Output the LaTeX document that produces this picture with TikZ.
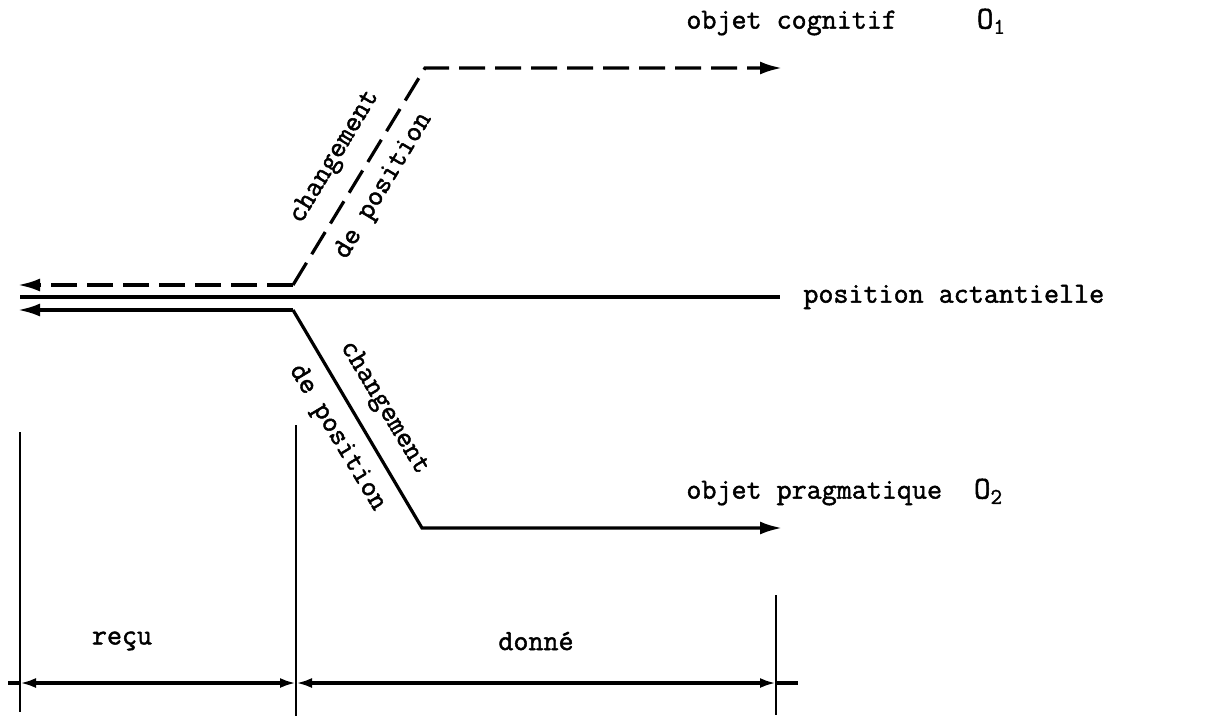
\documentclass[tikz,border=0pt]{standalone}
\usepackage{fontspec}
\newfontfamily\twfont[FakeBold=1.6]{Latin Modern Mono}
\usetikzlibrary{arrows.meta}
\begin{document}
\begin{tikzpicture}[x=0.5pt,y=-0.5pt,
  lbl/.style={font=\twfont\fontsize{14.6pt}{16pt}\selectfont, inner sep=0pt},
  path/.style={line width=1.6pt},
  dsh/.style={path, dash pattern=on 13pt off 5pt},
  tip/.style={-{Latex[length=11pt,width=6.5pt]}},
  dimtip/.style={{Latex[length=8pt,width=5pt]}-{Latex[length=8pt,width=5pt]}},
  thin line/.style={line width=1pt}]
\useasboundingbox (0,0) rectangle (1218,724);
% coordinates
\coordinate (uL) at (18,285);
\coordinate (uK) at (293,285);
\coordinate (uT) at (425,68);
\coordinate (uR) at (782,68);
\coordinate (mL) at (20,297);
\coordinate (mR) at (780,297);
\coordinate (lL) at (18,310);
\coordinate (lK) at (293,310);
\coordinate (lB) at (422,528);
\coordinate (lR) at (782,528);
% paths
\draw[dsh,tip] (uK) -- (uT) -- (uR);
\draw[dsh,tip] (uK) -- (uL);
\draw[path] (mL) -- (mR);
\draw[path,tip] (lK) -- (lL);
\draw[path,tip] (lK) -- (lB) -- (lR);
% labels
\node[lbl, anchor=west] (oc) at (686,22) {objet cognitif\hspace{40pt}\fontsize{16pt}{16pt}\selectfont O\textsubscript{1}};
\node[lbl, anchor=west] (pa) at (803,297) {position actantielle};
\node[lbl, anchor=west] (op) at (686,492) {objet pragmatique\hspace{16pt}\fontsize{16pt}{16pt}\selectfont O\textsubscript{2}};
\node[lbl, rotate=59] (c1) at (335,157) {changement};
\node[lbl, rotate=59] (p1) at (384,186) {de position};
\node[lbl, rotate=-59] (c2) at (384,408) {changement};
\node[lbl, rotate=-59] (p2) at (337,438) {de position};
\node[lbl] (recu) at (122,641) {reçu};
\node[lbl] (donne) at (536,641) {donné};
% dimension lines
\coordinate (v1t) at (20,432); \coordinate (v1b) at (20,712);
\coordinate (v2t) at (296,425); \coordinate (v2b) at (296,716);
\coordinate (v3t) at (776,595); \coordinate (v3b) at (776,715);
\draw[thin line] (v1t) -- (v1b);
\draw[thin line] (v2t) -- (v2b);
\draw[thin line] (v3t) -- (v3b);
\coordinate (d0) at (8,683);
\coordinate (d1) at (20,683);
\coordinate (d2) at (296,683);
\coordinate (d3) at (776,683);
\coordinate (d4) at (798,683);
\draw[path] (d0) -- (d1);
\draw[path,dimtip] (d1) -- (d2);
\draw[path,dimtip] (d2) -- (d3);
\draw[path] (d3) -- (d4);
\end{tikzpicture}
\end{document}
